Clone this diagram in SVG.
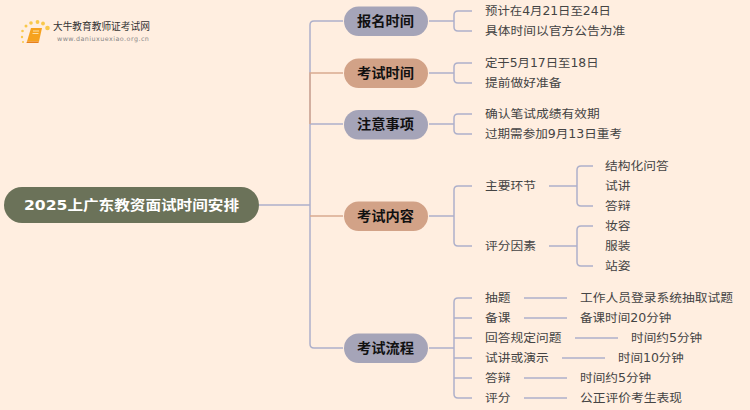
<svg xmlns="http://www.w3.org/2000/svg" width="750" height="410" viewBox="0 0 750 410">
<defs><style>
text{font-family:"DejaVu Sans","Noto Sans CJK SC",sans-serif;dominant-baseline:central}
.c{fill:none;stroke:#aeb0ca;stroke-width:1.5}
.o{fill:none;stroke:#d9ab90;stroke-width:1.5}
.gray{fill:#a5a4b8}.brown{fill:#d2a287}
.n{font-size:13.500px;font-weight:700;fill:#111}
.t{font-size:11.800px;fill:#444}
</style></defs>
<rect width="750" height="410" fill="#ffeee0"/>
<g id="logo">
<g fill="#f9c84a"><circle cx="47.500" cy="28" r="2.300"/><circle cx="43" cy="23.500" r="1.900"/><circle cx="37.500" cy="22" r="1.900"/><circle cx="31" cy="23" r="1.800"/><circle cx="26" cy="26" r="1.500"/><circle cx="22.500" cy="31" r="1.300"/><circle cx="22" cy="37" r="1.200"/><circle cx="23" cy="42" r="1"/></g>
<path d="M31 28h11l-3 13.500h-12z" fill="#f6a21e"/><path d="M27 41.500h12l-.6 1.500h-12z" fill="#e8801a"/><path d="M33 31h6M32.500 33.500h6" stroke="#fff0c8" stroke-width=".8"/>
<text x="53" y="26.500" font-size="9.700" fill="#333">大牛教育教师证考试网</text>
<text x="57" y="39" font-size="6.400" letter-spacing=".45" fill="#888">www.daniuxuexiao.org.cn</text>
</g>
<g id="connectors">
<path class="c" d="M259 205H310M343 21H314Q310 21 310 25V344Q310 348 314 348H343M310 124H343"/>
<path class="o" d="M343 73H310V124M310 216H343"/>
<path class="c" d="M429 21H454M472 11H458Q454 11 454 15V27Q454 31 458 31H472"/>
<path class="c" d="M429 73H454M472 63H458Q454 63 454 67V79Q454 83 458 83H472"/>
<path class="c" d="M429 124H454M472 114H458Q454 114 454 118V130Q454 134 458 134H472"/>
<path class="c" d="M429 216H454M472 186H458Q454 186 454 190V242Q454 246 458 246H472"/>
<path class="c" d="M549 186H577M593 166H581Q577 166 577 170V202Q577 206 581 206H593"/>
<path class="c" d="M549 246H577M593 226H581Q577 226 577 230V262Q577 266 581 266H593"/>
<path class="c" d="M429 348H454M472 298H458Q454 298 454 302V394Q454 398 458 398H472M454 318H472M454 338H472M454 358H472M454 378H472"/>
<path class="c" d="M524 298H567M524 318H567M575 338H618M562 358H605M524 378H567M524 398H567"/>
</g>
<g id="root"><rect x="4" y="187" width="255" height="36" rx="18" fill="#6b7259"/><text x="24" y="205" font-size="14" font-weight="700" fill="#fff" textLength="215" lengthAdjust="spacingAndGlyphs">2025上广东教资面试时间安排</text></g>
<g id="n1"><rect class="gray" x="344" y="6.500" width="84" height="29.500" rx="14.700"/><text class="n" x="357" y="21" textLength="57" lengthAdjust="spacingAndGlyphs">报名时间</text></g>
<g id="n2"><rect class="brown" x="344" y="58.500" width="84" height="29.500" rx="14.700"/><text class="n" x="357" y="73" textLength="57" lengthAdjust="spacingAndGlyphs">考试时间</text></g>
<g id="n3"><rect class="gray" x="344" y="110" width="84" height="29.500" rx="14.700"/><text class="n" x="357" y="124" textLength="57" lengthAdjust="spacingAndGlyphs">注意事项</text></g>
<g id="n4"><rect class="brown" x="344" y="201.500" width="84" height="29.500" rx="14.700"/><text class="n" x="357" y="216" textLength="57" lengthAdjust="spacingAndGlyphs">考试内容</text></g>
<g id="n5"><rect class="gray" x="344" y="333.500" width="84" height="29.500" rx="14.700"/><text class="n" x="357" y="348" textLength="57" lengthAdjust="spacingAndGlyphs">考试流程</text></g>
<g id="leaves" transform="translate(0 0.400)">
<text class="t" x="485" y="11" textLength="126" lengthAdjust="spacingAndGlyphs">预计在4月21日至24日</text>
<text class="t" x="485" y="31" textLength="140.200" lengthAdjust="spacingAndGlyphs">具体时间以官方公告为准</text>
<text class="t" x="485" y="62.500" textLength="113.500" lengthAdjust="spacingAndGlyphs">定于5月17日至18日</text>
<text class="t" x="485" y="83" textLength="76.500" lengthAdjust="spacingAndGlyphs">提前做好准备</text>
<text class="t" x="485" y="114" textLength="114.700" lengthAdjust="spacingAndGlyphs">确认笔试成绩有效期</text>
<text class="t" x="485" y="134" textLength="137" lengthAdjust="spacingAndGlyphs">过期需参加9月13日重考</text>
<text class="t" x="485" y="186" textLength="51" lengthAdjust="spacingAndGlyphs">主要环节</text>
<text class="t" x="485" y="246" textLength="51" lengthAdjust="spacingAndGlyphs">评分因素</text>
<text class="t" x="605" y="166" textLength="63.700" lengthAdjust="spacingAndGlyphs">结构化问答</text>
<text class="t" x="605" y="186" textLength="25.500" lengthAdjust="spacingAndGlyphs">试讲</text>
<text class="t" x="605" y="206" textLength="25.500" lengthAdjust="spacingAndGlyphs">答辩</text>
<text class="t" x="605" y="226" textLength="25.500" lengthAdjust="spacingAndGlyphs">妆容</text>
<text class="t" x="605" y="246" textLength="25.500" lengthAdjust="spacingAndGlyphs">服装</text>
<text class="t" x="605" y="266" textLength="25.500" lengthAdjust="spacingAndGlyphs">站姿</text>
<text class="t" x="485" y="298" textLength="25.500" lengthAdjust="spacingAndGlyphs">抽题</text>
<text class="t" x="485" y="318" textLength="25.500" lengthAdjust="spacingAndGlyphs">备课</text>
<text class="t" x="485" y="338" textLength="76.500" lengthAdjust="spacingAndGlyphs">回答规定问题</text>
<text class="t" x="485" y="358" textLength="63.700" lengthAdjust="spacingAndGlyphs">试讲或演示</text>
<text class="t" x="485" y="378" textLength="25.500" lengthAdjust="spacingAndGlyphs">答辩</text>
<text class="t" x="485" y="398" textLength="25.500" lengthAdjust="spacingAndGlyphs">评分</text>
<text class="t" x="580" y="298" textLength="153" lengthAdjust="spacingAndGlyphs">工作人员登录系统抽取试题</text>
<text class="t" x="580" y="318" textLength="91.300" lengthAdjust="spacingAndGlyphs">备课时间20分钟</text>
<text class="t" x="631" y="338" textLength="71.200" lengthAdjust="spacingAndGlyphs">时间约5分钟</text>
<text class="t" x="618" y="358" textLength="65.800" lengthAdjust="spacingAndGlyphs">时间10分钟</text>
<text class="t" x="580" y="378" textLength="71.200" lengthAdjust="spacingAndGlyphs">时间约5分钟</text>
<text class="t" x="580" y="398" textLength="102" lengthAdjust="spacingAndGlyphs">公正评价考生表现</text>
</g>
</svg>
